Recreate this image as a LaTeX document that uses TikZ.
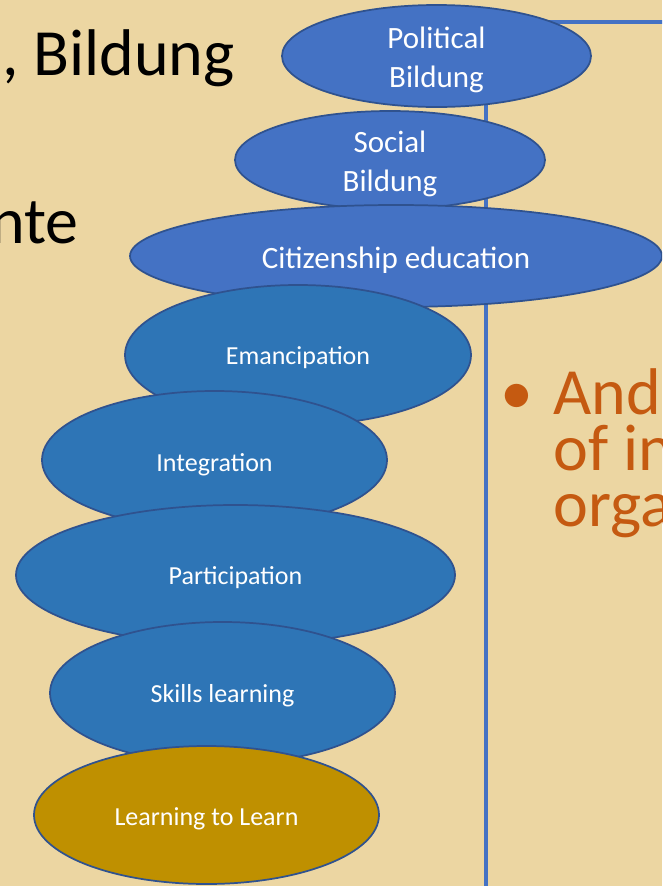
\documentclass[tikz,border=0pt]{standalone}
\usepackage{fontspec}
\setmainfont{Carlito}
\usetikzlibrary{shapes.geometric,calc}

\definecolor{papyrus}{RGB}{236,214,162}
\definecolor{lightblue}{RGB}{68,114,196}
\definecolor{midblue}{RGB}{46,117,182}
\definecolor{gold}{RGB}{191,144,0}
\definecolor{rim}{RGB}{47,82,143}
\definecolor{rust}{RGB}{197,90,17}

\tikzset{
  stone/.style={ellipse, draw=rim, line width=1.3pt, inner sep=0pt},
  radii/.style 2 args={minimum width=1.5pt*#1, minimum height=1.5pt*#2},
  biglbl/.style={text=white, inner sep=0pt, align=center, font=\fontsize{23.25}{29.25}\selectfont},
  smalllbl/.style={text=white, inner sep=0pt, font=\fontsize{19.5}{23}\selectfont},
  slide/.style={inner sep=0pt, font=\fontsize{49.5}{42}\selectfont},
  frame/.style={draw=lightblue, line width=3pt},
}

\begin{document}
\begin{tikzpicture}[x=0.75pt,y=0.75pt,yscale=-1]
\path[use as bounding box] (0,0) rectangle (662,886);
\clip (0,0) rectangle (662,886);

% Background
\fill[papyrus] (0,0) rectangle (662,886);

% Placeholder frame
\coordinate (frameB) at (486,892);
\coordinate (frameC) at (486,22);
\coordinate (frameR) at (668,22);
\draw[frame] (frameB) -- (frameC) -- (frameR);

% Stones, top to bottom
\node[stone, fill=lightblue, radii={154.5}{51}] (pol) at (436.5,56) {};
\node[biglbl] (pol-t) at ($(pol.center)+(0,4)$) {Political\\Bildung};

\node[stone, fill=lightblue, radii={155}{49}] (soc) at (390,160) {};
\node[biglbl] (soc-t) at ($(soc.center)+(0,4)$) {Social\\Bildung};

\node[stone, fill=lightblue, radii={266}{51}] (cit) at (396,256) {};
\node[biglbl] (cit-t) at ($(cit.center)+(0,4)$) {Citizenship education};

\node[stone, fill=midblue, radii={173}{70}] (ema) at (298,355) {};
\node[smalllbl] (ema-t) at ($(ema.center)+(0,3)$) {Emancipation};

\node[stone, fill=midblue, radii={172.5}{69}] (int) at (214.5,460) {};
\node[smalllbl] (int-t) at ($(int.center)+(0,5)$) {Integration};

\node[stone, fill=midblue, radii={219.5}{70}] (par) at (235.5,575) {};
\node[smalllbl] (par-t) at ($(par.center)+(0,3)$) {Participation};

\node[stone, fill=midblue, radii={172.5}{71}] (ski) at (222.5,693) {};
\node[smalllbl] (ski-t) at ($(ski.center)+(0,3)$) {Skills learning};

\node[stone, fill=gold, radii={172.5}{69}] (ltl) at (206.5,815) {};
\node[smalllbl] (ltl-t) at ($(ltl.center)+(0,4)$) {Learning to Learn};

% Slide text, cut by the edges
\node[slide, anchor=base east] (bildung) at (235,75) {, Bildung};
\node[slide, anchor=base west] (nte) at (-10,243) {nte};

\node[slide, text=rust, anchor=base] (dot) at (517,414) {•};
\node[slide, text=rust, align=left, anchor=base west] (andtxt) at (553,526) {And\\of in\\orga};

\end{tikzpicture}
\end{document}
